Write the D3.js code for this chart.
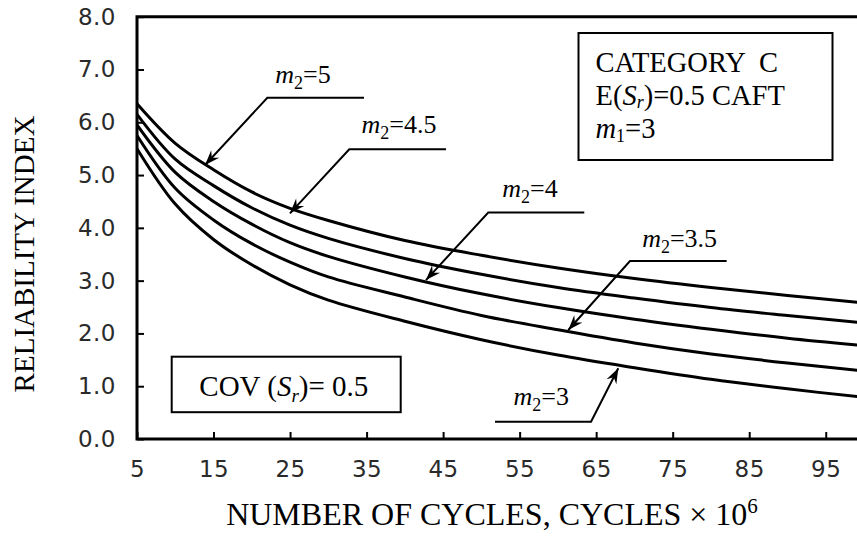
<!DOCTYPE html>
<html>
<head>
<meta charset="utf-8">
<script src="https://cdn.jsdelivr.net/npm/d3@7/dist/d3.min.js"></script>
<style>
  html, body { margin: 0; padding: 0; background: #fff; }
  svg { display: block; }
  .serif { font-family: "Liberation Serif", "Times New Roman", serif; fill: #000; }
  .tick text { font-family: "DejaVu Sans", "Noto Sans", sans-serif; font-size: 23px; fill: #2a2a2a; letter-spacing: 0.5px; }
</style>
</head>
<body>
<svg id="chart" width="857" height="540"></svg>
<script>
// Number of cycles (millions)
const cycles = [5, 10, 15, 20, 25, 30, 40, 50, 60, 70, 80, 90, 100];

// Reliability index for each fatigue exponent m2
const betaM2_5   = [6.35, 5.60, 5.10, 4.68, 4.37, 4.14, 3.76, 3.48, 3.24, 3.04, 2.87, 2.72, 2.58];
const betaM2_4_5 = [6.15, 5.30, 4.80, 4.38, 4.05, 3.80, 3.42, 3.12, 2.87, 2.67, 2.49, 2.34, 2.20];
const betaM2_4   = [5.95, 5.05, 4.50, 4.07, 3.72, 3.46, 3.07, 2.75, 2.49, 2.27, 2.08, 1.91, 1.77];
const betaM2_3_5 = [5.75, 4.75, 4.15, 3.70, 3.35, 3.07, 2.69, 2.34, 2.07, 1.82, 1.61, 1.44, 1.29];
const betaM2_3   = [5.50, 4.45, 3.78, 3.30, 2.92, 2.63, 2.23, 1.88, 1.59, 1.35, 1.13, 0.95, 0.79];

const seriesNames = ["5", "4.5", "4", "3.5", "3"];
const seriesValues = [betaM2_5, betaM2_4_5, betaM2_4, betaM2_3_5, betaM2_3];

// Axis ticks
const xTicks = [5, 15, 25, 35, 45, 55, 65, 75, 85, 95];
const yTicks = [0, 1, 2, 3, 4, 5, 6, 7, 8];

const W = 857, H = 540;
const plotLeft = 137, plotTop = 16.7, plotBottom = 439;

const svg = d3.select("#chart");

const x = d3.scaleLinear().domain([5, 100]).range([plotLeft, 864]);
const y = d3.scaleLinear().domain([0, 8]).range([plotBottom, plotTop]);

const defs = svg.append("defs");

// Clip the plotting area at the page edge
defs.append("clipPath").attr("id", "plotClip")
  .append("rect").attr("x", plotLeft).attr("y", plotTop)
  .attr("width", W - plotLeft).attr("height", plotBottom - plotTop);

// Arrowhead for the leader lines
defs.append("marker")
  .attr("id", "arrow")
  .attr("viewBox", "-16 -7 18 14")
  .attr("markerWidth", 18).attr("markerHeight", 14)
  .attr("markerUnits", "userSpaceOnUse")
  .attr("refX", 0).attr("refY", 0)
  .attr("orient", "auto")
  .append("path")
  .attr("d", "M0,0 L-15,-5.5 L-10,0 L-15,5.5 Z")
  .attr("fill", "#000");

// Axes (ticks pointing inward)
const xAxis = d3.axisBottom(x).tickValues(xTicks).tickSize(-7).tickPadding(22).tickFormat(d3.format("d"));
const yAxis = d3.axisLeft(y).tickValues(yTicks).tickSize(-7).tickPadding(21).tickFormat(d3.format(".1f"));

const gx = svg.append("g").attr("transform", `translate(0,${plotBottom})`).call(xAxis);
const gy = svg.append("g").attr("transform", `translate(${plotLeft},0)`).call(yAxis);
[gx, gy].forEach(g => {
  g.select(".domain").remove();
  g.selectAll(".tick line").attr("stroke", "#000").attr("stroke-width", 2);
});

// Frame: left axis, bottom axis, top border
svg.append("path")
  .attr("d", `M${W},${plotTop} H${plotLeft} V${plotBottom} H${W}`)
  .attr("fill", "none").attr("stroke", "#000").attr("stroke-width", 3);

// Curves
const line = d3.line()
  .x((d, i) => x(cycles[i]))
  .y(d => y(d))
  .curve(d3.curveCatmullRom.alpha(0.5));

svg.append("g").attr("clip-path", "url(#plotClip)")
  .selectAll("path.curve")
  .data(seriesValues)
  .join("path")
  .attr("class", "curve")
  .attr("d", line)
  .attr("fill", "none")
  .attr("stroke", "#000")
  .attr("stroke-width", 3);

// Leader-line annotations in data units: label, shelf end, elbow, arrow tip
const notes = [
  { m: "5",   label: [26.7, 6.74], shelf: [34.66, 6.465], elbow: [22.03, 6.465], tip: [13.89, 5.19] },
  { m: "4.5", label: [39.24, 5.80], shelf: [45.38, 5.49], elbow: [32.74, 5.49], tip: [24.99, 4.275] },
  { m: "4",   label: [56.35, 4.58], shelf: [63.45, 4.29], elbow: [50.9, 4.29], tip: [42.76, 3.01] },
  { m: "3.5", label: [75.91, 3.64], shelf: [82.05, 3.37], elbow: [69.42, 3.37], tip: [61.36, 2.065] },
  { m: "3",   label: [57.83, 0.644], shelf: [51.78, 0.328], elbow: [64.33, 0.328], tip: [67.89, 1.34] }
];

const gNotes = svg.append("g");
notes.forEach(n => {
  gNotes.append("path")
    .attr("d", `M${x(n.shelf[0])},${y(n.shelf[1])} L${x(n.elbow[0])},${y(n.elbow[1])} L${x(n.tip[0])},${y(n.tip[1])}`)
    .attr("fill", "none").attr("stroke", "#000").attr("stroke-width", 2)
    .attr("marker-end", "url(#arrow)");
  const t = gNotes.append("text").attr("class", "serif")
    .attr("x", x(n.label[0])).attr("y", y(n.label[1]))
    .attr("text-anchor", "middle").attr("font-size", 26);
  t.append("tspan").attr("font-style", "italic").text("m");
  t.append("tspan").attr("font-size", 18).attr("dy", 6).text("2");
  t.append("tspan").attr("dy", -6).text("=" + n.m);
});

// Case description box
svg.append("rect").attr("x", 578.5).attr("y", 33).attr("width", 254).attr("height", 127)
  .attr("fill", "#fff").attr("stroke", "#000").attr("stroke-width", 2);
const infoLine = (yPos) => svg.append("text").attr("class", "serif")
  .attr("font-size", 28.5).attr("xml:space", "preserve")
  .attr("x", 595.5).attr("y", yPos);
infoLine(72).text("CATEGORY  C");
const l2 = infoLine(105);
l2.append("tspan").text("E(");
l2.append("tspan").attr("font-style", "italic").text("S");
l2.append("tspan").attr("font-style", "italic").attr("font-size", 18).attr("dy", 3).text("r");
l2.append("tspan").attr("dy", -3).text(")=0.5 CAFT");
const l3 = infoLine(138);
l3.append("tspan").attr("font-style", "italic").text("m");
l3.append("tspan").attr("font-size", 18).attr("dy", 4).text("1");
l3.append("tspan").attr("dy", -4).text("=3");

// Coefficient of variation box
svg.append("rect").attr("x", 171.7).attr("y", 356.7).attr("width", 229).attr("height", 55.5)
  .attr("fill", "#fff").attr("stroke", "#000").attr("stroke-width", 2);
const cov = svg.append("text").attr("class", "serif").attr("font-size", 29)
  .attr("x", 199.3).attr("y", 396);
cov.append("tspan").text("COV (");
cov.append("tspan").attr("font-style", "italic").text("S");
cov.append("tspan").attr("font-style", "italic").attr("font-size", 19).attr("dy", 6).text("r");
cov.append("tspan").attr("dy", -6).text(")= 0.5");

// Axis titles
svg.append("text").attr("class", "serif").attr("font-size", 29)
  .attr("text-anchor", "middle")
  .attr("transform", "translate(34,254) rotate(-90)")
  .text("RELIABILITY INDEX");

const xt = svg.append("text").attr("class", "serif").attr("font-size", 32)
  .attr("text-anchor", "middle").attr("x", 492).attr("y", 525);
xt.append("tspan").text("NUMBER OF CYCLES, CYCLES × 10");
xt.append("tspan").attr("font-size", 21).attr("dy", -12).text("6");
</script>
</body>
</html>
